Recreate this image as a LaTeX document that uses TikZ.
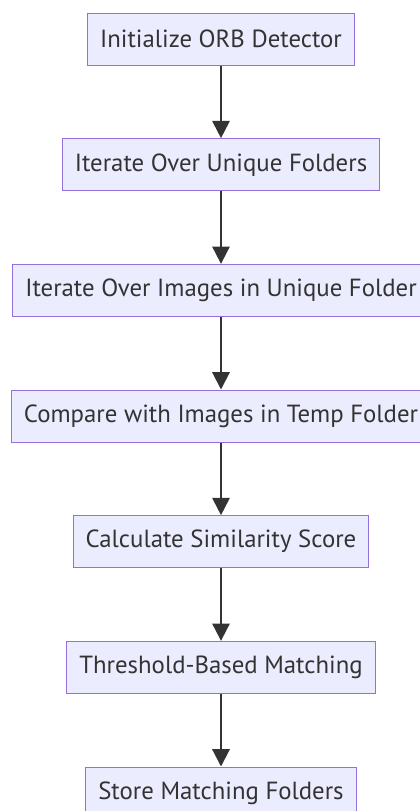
\documentclass[tikz,border=0pt]{standalone}
\usepackage{fontspec}
\setmainfont{PT Sans}
\usepackage{xcolor}
\usepackage{tikz}
\usetikzlibrary{positioning,arrows.meta}

\definecolor{boxfill}{HTML}{ECECFF}
\definecolor{boxline}{HTML}{9370DB}
\definecolor{arrowline}{HTML}{333333}

\begin{document}
\begin{tikzpicture}[
  node distance=54.5pt,
  stepbox/.style={rectangle, draw=boxline, line width=0.75pt, fill=boxfill, text=arrowline, inner xsep=9.4pt, minimum height=39pt, align=center, font=\fontsize{18.6}{22}\selectfont},
  arrow/.style={-{Triangle[length=13pt,width=13pt]}, line width=1.5pt, draw=arrowline}
]
\useasboundingbox (0,0) rectangle (315pt,-608.25pt);
\node[stepbox] (init) at (165.75pt,-29.25pt) {Initialize ORB Detector};
\node[stepbox, below=of init] (folders) {Iterate Over Unique Folders};
\node[stepbox, below=of folders] (images) {Iterate Over Images in Unique Folder};
\node[stepbox, below=of images] (compare) {Compare with Images in Temp Folder};
\node[stepbox, below=of compare] (score) {Calculate Similarity Score};
\node[stepbox, below=of score] (threshold) {Threshold-Based Matching};
\node[stepbox, below=of threshold] (store) {Store Matching Folders};
\draw[arrow] (init) -- (folders);
\draw[arrow] (folders) -- (images);
\draw[arrow] (images) -- (compare);
\draw[arrow] (compare) -- (score);
\draw[arrow] (score) -- (threshold);
\draw[arrow] (threshold) -- (store);
\end{tikzpicture}
\end{document}
